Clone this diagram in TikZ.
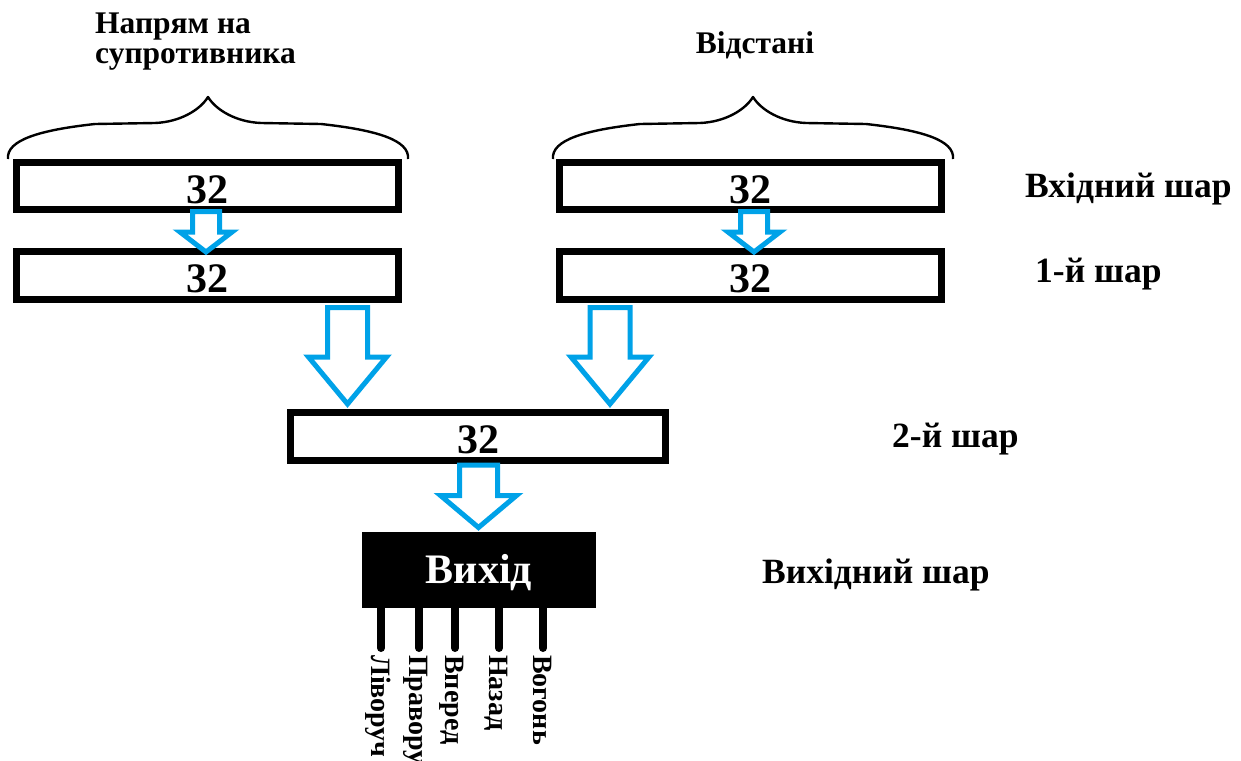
\documentclass[tikz,border=0pt]{standalone}
\usepackage{fontspec}
\setmainfont{Liberation Serif}
\usetikzlibrary{calc}
\definecolor{arrowblue}{RGB}{0,162,232}

% hollow block arrow pointing down: #1 top centre, #2 tip,
% #3 shaft half-width, #4 head half-width, #5 head length
\newcommand{\blockarrow}[5]{%
  \draw[blockarr] ($(#1)+(-#3,0)$) -- ($(#1)+(#3,0)$) -- ($(#2)+(#3,-#5)$)
    -- ($(#2)+(#4,-#5)$) -- (#2) -- ($(#2)+(-#4,-#5)$) -- ($(#2)+(-#3,-#5)$) -- cycle;}

\tikzset{
  layerbox/.style={draw, line width=7pt, inner sep=0pt, minimum width=382pt,
    text height=34pt, text depth=0pt, font=\fontsize{42}{48}\selectfont\bfseries},
  blockarr/.style={draw=arrowblue, fill=white, line width=5pt, line join=miter},
  bracestyle/.style={line width=2.4pt, line join=round},
  cloudbrace/.pic={
    \draw[bracestyle] (-200,62) .. controls (-202,43) and (-168,33) .. (-113,27)
      -- (-53,26) .. controls (-28,25) and (-8,13) .. (0,0)
      .. controls (8,13) and (28,25) .. (53,26) -- (113,27)
      .. controls (168,33) and (202,43) .. (200,62);},
  heading/.style={font=\fontsize{31.5}{30}\selectfont\bfseries, inner sep=0pt},
  layername/.style={font=\fontsize{35.5}{40}\selectfont\bfseries, inner sep=0pt, anchor=base west},
  pinline/.style={line width=8pt, line cap=round},
  outlabel/.style={rotate=-90, anchor=base west, inner sep=0pt,
    font=\fontsize{28}{32}\selectfont\bfseries}
}

\begin{document}
\begin{tikzpicture}[x=1pt, y=-1pt]
\useasboundingbox[fill=white] (0,0) rectangle (1241,760);

% input headings and braces
\node[heading, anchor=north west, align=left] (hdrA) at (95,13) {Напрям на\\супротивника};
\node[heading, anchor=base] (hdrB) at (755,53) {Відстані};
\pic at (208,97) {cloudbrace};
\pic at (753,97) {cloudbrace};

% layers
\node[layerbox, minimum height=47pt] (in1) at (207.5,186) {32};
\node[layerbox, minimum height=47pt] (in2) at (750,186) {32};
\node[layerbox, minimum height=48pt] (l1a) at (207.5,275.5) {32};
\node[layerbox, minimum height=48pt] (l1b) at (750,275.5) {32};
\node[layerbox, minimum width=375pt, minimum height=48pt] (l2) at (478,436.5) {32};
\node[fill=black, text=white, inner sep=0pt, minimum width=234pt, minimum height=76pt,
  text height=26pt, text depth=0pt, font=\fontsize{42}{48}\selectfont\bfseries]
  (out) at (479,570) {Вихід};

% layer names
\node[layername] (nIn) at (1025,197) {Вхідний шар};
\node[layername] (nL1) at (1035,282) {1-й шар};
\node[layername] (nL2) at (892,447) {2-й шар};
\node[layername] (nOut) at (762,583) {Вихідний шар};

% arrows between layers
\coordinate (a1t) at (206,211.5);   \coordinate (a1p) at (206,252);
\coordinate (a2t) at (754,211.5);   \coordinate (a2p) at (754,252);
\coordinate (a3t) at (347.5,307.5); \coordinate (a3p) at (347.5,404);
\coordinate (a4t) at (610,307.5);   \coordinate (a4p) at (610,404);
\coordinate (a5t) at (478.5,465);   \coordinate (a5p) at (478.5,527.5);
\blockarrow{a1t}{a1p}{13.5}{26}{20}
\blockarrow{a2t}{a2p}{13.5}{26}{20}
\blockarrow{a3t}{a3p}{20}{39}{47}
\blockarrow{a4t}{a4p}{20}{39}{47}
\blockarrow{a5t}{a5p}{19}{38}{32}

% output pins and their labels
\coordinate (p1) at (381,648);
\coordinate (p2) at (419,648);
\coordinate (p3) at (455,648);
\coordinate (p4) at (499,648);
\coordinate (p5) at (543,648);
\foreach \p in {p1,p2,p3,p4,p5}
  \draw[pinline] (out.south -| \p) -- (\p);
\node[outlabel] (o1) at ($(p1)+(-10,7)$) {Ліворуч};
\node[outlabel] (o2) at ($(p2)+(-10,7)$) {Праворуч};
\node[outlabel] (o3) at ($(p3)+(-10,7)$) {Вперед};
\node[outlabel] (o4) at ($(p4)+(-10,7)$) {Назад};
\node[outlabel] (o5) at ($(p5)+(-10,7)$) {Вогонь};
\end{tikzpicture}
\end{document}
